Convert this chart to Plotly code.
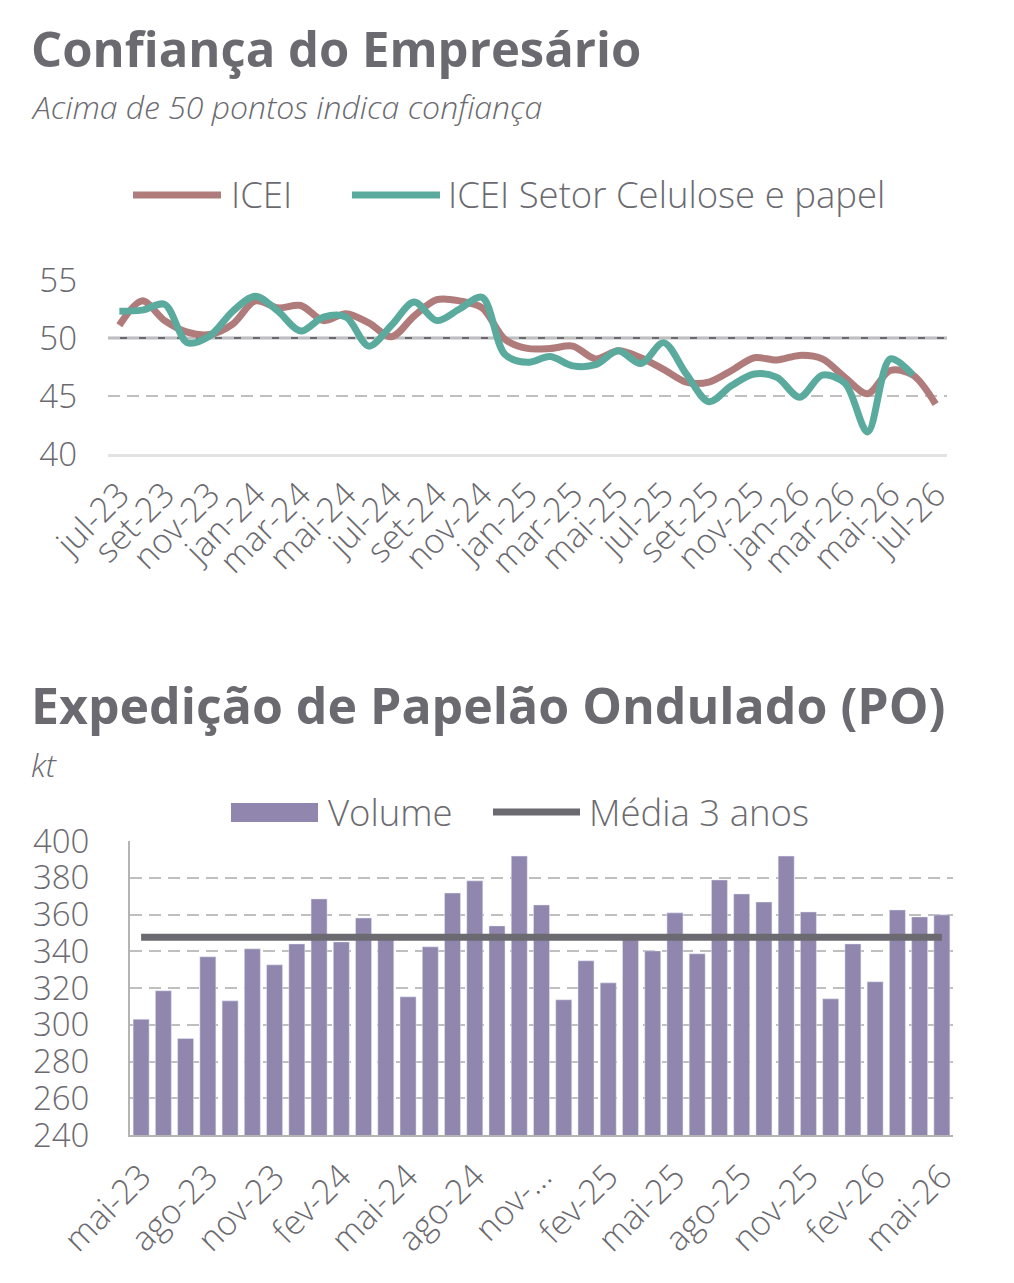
import plotly.graph_objects as go

# ---------------- data ----------------
icei_months = ["jul-23","ago-23","set-23","out-23","nov-23","dez-23",
               "jan-24","fev-24","mar-24","abr-24","mai-24","jun-24",
               "jul-24","ago-24","set-24","out-24","nov-24","dez-24",
               "jan-25","fev-25","mar-25","abr-25","mai-25","jun-25",
               "jul-25","ago-25","set-25","out-25","nov-25","dez-25",
               "jan-26","fev-26","mar-26","abr-26","mai-26","jun-26","jul-26"]
icei_values = [51.1, 53.2, 51.5, 50.5, 50.3, 51.2, 53.2, 52.6, 52.8, 51.5,
               52.1, 51.3, 50.1, 51.9, 53.3, 53.2, 52.6, 49.9, 49.1, 49.1,
               49.3, 48.2, 48.9, 48.3, 47.3, 46.2, 46.2, 47.2, 48.3, 48.1,
               48.5, 48.2, 46.6, 45.2, 47.2, 46.8, 44.3]
icei_papel_values = [52.3, 52.4, 52.9, 49.6, 50.2, 52.3, 53.6, 52.3, 50.6, 51.8,
                     51.8, 49.3, 51.1, 53.1, 51.5, 52.5, 53.5, 48.6, 47.9, 48.4,
                     47.6, 47.7, 48.9, 47.8, 49.6, 46.9, 44.5, 45.9, 46.9, 46.6,
                     44.9, 46.8, 46.1, 41.9, 48.2, 46.8, None]
icei_ticks = icei_months[::2]
icei_reference = 50

po_months = ["mai-23","jun-23","jul-23","ago-23","set-23","out-23","nov-23","dez-23",
             "jan-24","fev-24","mar-24","abr-24","mai-24","jun-24","jul-24","ago-24",
             "set-24","out-24","nov-24","dez-24","jan-25","fev-25","mar-25","abr-25",
             "mai-25","jun-25","jul-25","ago-25","set-25","out-25","nov-25","dez-25",
             "jan-26","fev-26","mar-26","abr-26","mai-26"]
po_volume = [303, 318.5, 292.5, 337, 313, 341.3, 332.6, 344, 368.5, 345.1,
             358.1, 347, 315.2, 342.4, 371.7, 378.3, 353.8, 391.8, 365.2, 313.6,
             334.8, 322.8, 348, 340.2, 360.9, 338.6, 378.8, 371.2, 366.8, 391.8,
             361.4, 314.1, 344, 323.4, 362.5, 358.7, 359.8]
po_media_3anos = 347.6
po_tickvals = po_months[::3]
po_ticktext = ["mai-23","ago-23","nov-23","fev-24","mai-24","ago-24","nov-…",
               "fev-25","mai-25","ago-25","nov-25","fev-26","mai-26"]

# ---------------- style ----------------
PAGE_MARGIN = 8          # default body margin of the html page
W, H = 1014 - 2 * PAGE_MARGIN, 1283 - 2 * PAGE_MARGIN
GREY = "#6b6a70"
BROWN = "#b07c7b"
GREEN = "#5aab9e"
PURPLE = "#9187ae"
GRID = "#bfbfbf"
FONT = "Open Sans"
DASH = "12px,7px"

def px_x(x):
    return (x - PAGE_MARGIN) / W

def px_y(y):
    return 1 - (y - PAGE_MARGIN) / H

fig = go.Figure()

fig.add_trace(go.Scatter(x=icei_months, y=icei_values, name="ICEI", mode="lines",
                         line=dict(color=BROWN, width=7, shape="spline", smoothing=0.9),
                         xaxis="x", yaxis="y", showlegend=False))
fig.add_trace(go.Scatter(x=icei_months, y=icei_papel_values, name="ICEI Setor Celulose e papel",
                         mode="lines",
                         line=dict(color=GREEN, width=7, shape="spline", smoothing=0.9),
                         xaxis="x", yaxis="y", showlegend=False))

fig.add_trace(go.Bar(x=po_months, y=po_volume, name="Volume", marker_color=PURPLE,
                     xaxis="x2", yaxis="y2", showlegend=False))
fig.add_trace(go.Scatter(x=po_months, y=[po_media_3anos] * len(po_months), name="Média 3 anos",
                         mode="lines", line=dict(color=GREY, width=7),
                         xaxis="x2", yaxis="y2", showlegend=False))

xtick_font = dict(family=FONT, size=34, color=GREY, weight=300)
ytick_font = dict(family=FONT, size=33, color=GREY, weight=300)

fig.update_layout(
    width=W, height=H, margin=dict(l=0, r=0, t=0, b=0, autoexpand=False),
    paper_bgcolor="white", plot_bgcolor="white",
    bargap=0.28,
    xaxis=dict(domain=[px_x(108), px_x(947)], anchor="y", type="category", automargin=False,
               range=[-0.5, 36.5], tickmode="array", tickvals=icei_ticks, ticktext=icei_ticks,
               tickangle=-45, tickfont=xtick_font, showgrid=False,
               showline=True, linecolor="#e3e3e3", linewidth=3, ticks="", ticklabelstandoff=4),
    yaxis=dict(domain=[px_y(454), px_y(280)], anchor="x", range=[40, 55], automargin=False,
               tickvals=[40, 45, 50, 55], tickfont=ytick_font, showgrid=True,
               gridcolor=GRID, griddash=DASH, gridwidth=2, zeroline=False,
               ticklabelstandoff=30),
    xaxis2=dict(domain=[px_x(130), px_x(953)], anchor="y2", type="category", automargin=False,
                range=[-0.5, 36.5], tickmode="array", tickvals=po_tickvals, ticktext=po_ticktext,
                tickangle=-45, tickfont=xtick_font, showgrid=False,
                showline=True, linecolor="#b4b4b4", linewidth=2, ticks="", ticklabelstandoff=6),
    yaxis2=dict(domain=[px_y(1135), px_y(841)], anchor="x2", range=[240, 400], automargin=False,
                tickvals=list(range(240, 401, 20)), tickfont=ytick_font, showgrid=True,
                gridcolor=GRID, griddash=DASH, gridwidth=2, zeroline=False,
                showline=True, linecolor="#b4b4b4", linewidth=2, ticklabelstandoff=32),
)

# reference line at 50 on top chart
fig.add_shape(type="line", xref="x domain", yref="y", x0=0, x1=1,
              y0=icei_reference, y1=icei_reference, line=dict(color=GREY, width=2.5), layer="below")

# titles
sub_font = dict(family=FONT, size=32, color=GREY, style="italic", weight=300)
ann = [
    dict(text="Confiança do Empresário", x=px_x(29), y=px_y(48),
         font=dict(family=FONT, size=49, color=GREY, weight=700)),
    dict(text="Acima de 50 pontos indica confiança", x=px_x(29), y=px_y(107), font=sub_font),
    dict(text="Expedição de Papelão Ondulado (PO)", x=px_x(29), y=px_y(705),
         font=dict(family=FONT, size=50, color=GREY, weight=700)),
    dict(text="kt", x=px_x(29), y=px_y(764), font=sub_font),
]
for a in ann:
    fig.add_annotation(xref="paper", yref="paper", xanchor="left", yanchor="middle",
                       showarrow=False, **a)

# manual legends (long symbols as in reference)
leg_font = dict(family=FONT, size=36.5, color=GREY, weight=300)
legend_items_top = [("ICEI", BROWN, 133, 221, 229), ("ICEI Setor Celulose e papel", GREEN, 352, 440, 446)]
for name, color, x0, x1, xt in legend_items_top:
    fig.add_shape(type="line", xref="paper", yref="paper", x0=px_x(x0), x1=px_x(x1),
                  y0=px_y(195), y1=px_y(195), line=dict(color=color, width=7))
    fig.add_annotation(text=name, xref="paper", yref="paper", x=px_x(xt), y=px_y(194),
                       xanchor="left", yanchor="middle", showarrow=False, font=leg_font)

fig.add_shape(type="rect", xref="paper", yref="paper", x0=px_x(231), x1=px_x(318),
              y0=px_y(822), y1=px_y(803), fillcolor=PURPLE, line=dict(width=0))
fig.add_annotation(text="Volume", xref="paper", yref="paper", x=px_x(326), y=px_y(812),
                   xanchor="left", yanchor="middle", showarrow=False, font=leg_font)
fig.add_shape(type="line", xref="paper", yref="paper", x0=px_x(493), x1=px_x(580),
              y0=px_y(812), y1=px_y(812), line=dict(color=GREY, width=7))
fig.add_annotation(text="Média 3 anos", xref="paper", yref="paper", x=px_x(587), y=px_y(812),
                   xanchor="left", yanchor="middle", showarrow=False, font=leg_font)

fig.write_html("out.html")
